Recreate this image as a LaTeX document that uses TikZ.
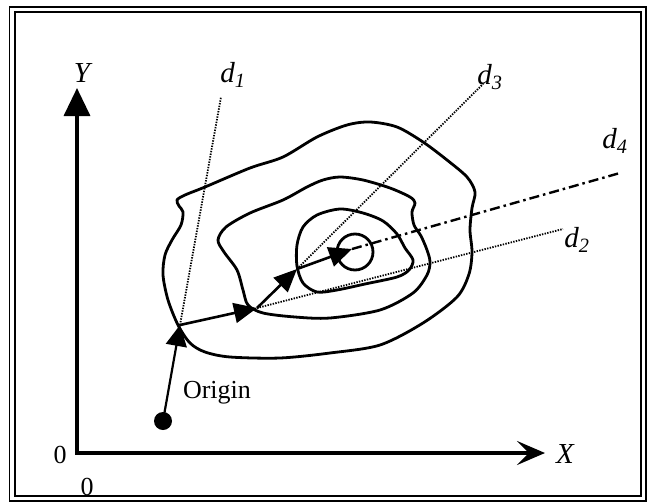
\documentclass[tikz,border=0pt]{standalone}
\usepackage{fontspec}
\setmainfont{Liberation Serif}
\usetikzlibrary{arrows.meta}
\begin{document}
\begin{tikzpicture}[x=1pt,y=-1pt,
  contour/.style={line width=2.8pt, line join=round},
  axis/.style={line width=3.5pt},
  dirline/.style={line width=1.8pt, dash pattern=on 1.4pt off 1.3pt},
  dashdot/.style={line width=2.4pt, dash pattern=on 10pt off 4pt on 2.5pt off 4pt},
  stepline/.style={line width=2.6pt, -{Triangle[length=23pt,width=20pt]}},
  lab/.style={font=\fontsize{29}{30}\selectfont\itshape, inner sep=0pt},
  txt/.style={font=\fontsize{26}{28}\selectfont, inner sep=0pt},
  framebox/.style={line width=1.8pt},
]
\useasboundingbox (0,0) rectangle (650,503);
% frame
\draw[framebox] (9.5,7) rectangle (646,501);
\draw[framebox] (15,12) rectangle (641,496);

% coordinates
\coordinate (ytip) at (77,88);
\coordinate (corner) at (77,453);
\coordinate (xtip) at (545,453);
\coordinate (P0) at (180,325);
\coordinate (P1) at (257,308);
\coordinate (P2) at (297,269);
\coordinate (P3) at (352,249);
\coordinate (e1) at (221,97);
\coordinate (e2) at (563,229);
\coordinate (e3) at (483,84);
\coordinate (e4) at (620,173);

% axes
\draw[axis, {Triangle[length=28pt,width=26pt]}-{Stealth[length=28pt,width=24pt,inset=12pt]}]
  (ytip) -- (corner) -- (xtip);

% contours
\draw[contour] plot[smooth cycle, tension=0.5] coordinates {
 (205,187) (250,168) (283,157) (317,137) (347,125) (370,122) (397,127) (423,142)
 (447,160) (467,177) (475,192) (472,208) (470,230) (472,252) (469,274) (457,297)
 (423,323) (380,345) (330,353) (280,358) (230,357) (205,352) (190,343) (178,325)
 (168,300) (163,275) (165,255) (172,240) (181,225) (183,212) (179,206) (177,200) (185,195)};
\draw[contour] plot[smooth cycle, tension=0.5] coordinates {
 (218,240) (226,227) (250,213) (283,200) (307,187) (323,180) (340,177) (363,180)
 (390,188) (410,197) (415,203) (412,212) (414,225) (421,236) (427,250) (430,262)
 (427,275) (413,293) (380,310) (330,318) (295,317) (263,313) (248,305) (243,290)
 (237,270) (224,252)};
\draw[contour] plot[smooth cycle, tension=0.5] coordinates {
 (297,245) (303,227) (317,215) (340,209) (363,213) (383,221) (397,234) (405,248)
 (413,260) (409,270) (397,277) (365,284) (337,290) (317,292) (303,283) (297,266)};
\draw[contour] (355,252) circle[radius=18];

% search directions
\draw[dirline] (P0) -- (e1);
\draw[dirline] (P1) -- (e2);
\draw[dirline] (P2) -- (e3);
\draw[dashdot] (P3) -- (e4);

% origin and steps
\fill (163,421) circle[radius=9] coordinate (O);
\draw[line width=2.2pt, -{Triangle[length=21pt,width=21pt]}] (O) -- (P0);
\draw[stepline] (P0) -- (P1);
\draw[stepline] (P1) -- (P2);
\draw[stepline] (P2) -- (P3);

% labels
\node[lab] (ly) at (82,73) {Y};
\node[lab] (lx) at (565,454) {X};
\node[txt] (l0) at (60,455) {0};
\node[txt] (l0b) at (87,487) {0};
\node[lab] (ld1) at (233,75) {d\textsubscript{1}};
\node[lab] (ld3) at (490,77) {d\textsubscript{3}};
\node[lab] (ld4) at (615,141) {d\textsubscript{4}};
\node[lab] (ld2) at (577,240) {d\textsubscript{2}};
\node[txt] (lo) at (217,393) {Origin};
\end{tikzpicture}
\end{document}
